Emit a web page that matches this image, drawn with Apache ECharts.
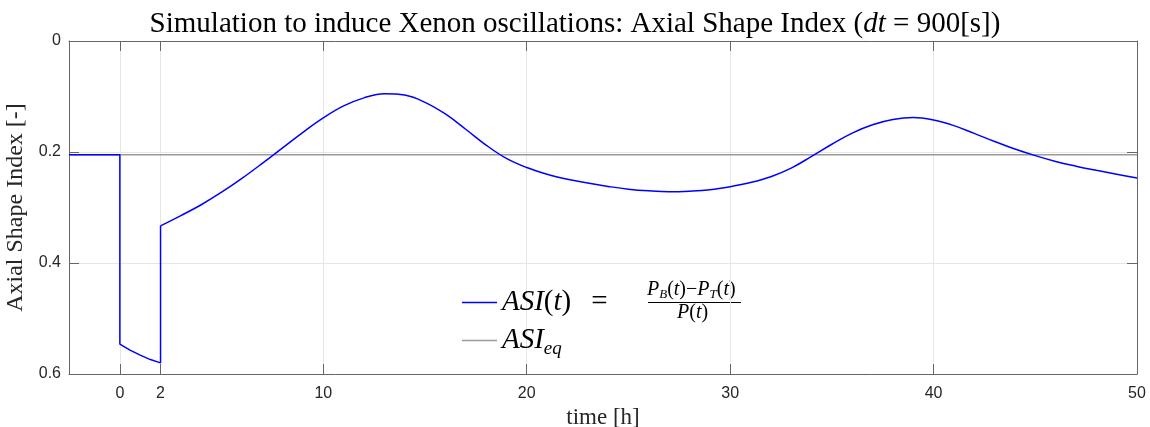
<!DOCTYPE html>
<html>
<head>
<meta charset="utf-8">
<script src="https://cdn.jsdelivr.net/npm/echarts@6/dist/echarts.min.js"></script>
<style>
  html, body { margin: 0; padding: 0; background: #fff; }
  #main { width: 1150px; height: 427px; }
</style>
</head>
<body>
<div id="main"></div>
<script>
// time [h] and ASI
// part 1: steady state, drop at t = 0, decay until t = 2, jump back at t = 2
const jumpTime = [-2.5, 0, 0, 0.5, 1, 1.5, 2, 2]
const jumpAsi = [0.205, 0.205, 0.546, 0.557, 0.566, 0.574, 0.580, 0.333]
// part 2: free oscillation after t = 2
const oscTime = [2, 3, 4, 5, 6, 7, 8, 9, 10, 11, 12, 13, 14, 15, 16, 17, 18, 19, 20,
  21, 22, 23, 24, 25, 26, 27, 28, 29, 30, 31, 32, 33, 34, 35, 36, 37, 38, 39, 40, 41, 42, 43, 44, 45, 46, 47, 48, 49, 50]
const oscAsi = [0.333, 0.3145, 0.295, 0.2725, 0.2475, 0.2205, 0.1925, 0.1645, 0.1385,
  0.117, 0.1025, 0.095, 0.0975, 0.1105, 0.1315, 0.159, 0.1875, 0.2115, 0.228,
  0.240, 0.249, 0.256, 0.262, 0.267, 0.270, 0.2715, 0.2705, 0.268, 0.2625, 0.255, 0.2445, 0.229, 0.208,
  0.186, 0.166, 0.151, 0.1415, 0.138, 0.1425, 0.1525, 0.1665, 0.181, 0.1945, 0.2065, 0.217, 0.2255, 0.233, 0.240, 0.247]
const asiEq = 0.205
const xTicks = [0, 2, 10, 20, 30, 40, 50]
const xRange = [-2.5, 50]

const jumpData = jumpTime.map((t, i) => [t, jumpAsi[i]])
const oscData = oscTime.map((t, i) => [t, oscAsi[i]])
const eqData = xRange.map(t => [t, asiEq])

const serif = 'Liberation Serif'
const sans = 'Liberation Sans'

const chart = echarts.init(document.getElementById('main'))

const option = {
  animation: false,
  title: {
    left: 'center',
    top: 5,
    text: '{r|Simulation to induce Xenon oscillations: Axial Shape Index (}{i|dt}{r| = 900[s])}',
    textStyle: {
      rich: {
        r: { fontFamily: serif, fontSize: 29, fontWeight: 'normal', color: '#000' },
        i: { fontFamily: serif, fontSize: 29, fontWeight: 'normal', fontStyle: 'italic', color: '#000' }
      }
    }
  },
  grid: { left: 69, right: 13, top: 41, bottom: 53, outerBoundsMode: 'none' },
  legend: [
    {
      left: 462,
      top: 288,
      padding: 0,
      orient: 'vertical',
      icon: 'rect',
      itemWidth: 35,
      itemHeight: 1.5,
      data: ['ASI'],
      formatter: () => '{i|ASI}{r|(}{i|t}{r|)}{e|=}',
      textStyle: {
        rich: {
          r: { fontFamily: serif, fontSize: 29, color: '#000' },
          i: { fontFamily: serif, fontSize: 29, fontStyle: 'italic', color: '#000' },
          e: { fontFamily: serif, fontSize: 29, color: '#000', padding: [0, 0, 0, 20] }
        }
      }
    },
    {
      left: 462,
      top: 326,
      padding: 0,
      orient: 'vertical',
      icon: 'rect',
      itemWidth: 35,
      itemHeight: 1.5,
      data: ['ASIeq'],
      formatter: () => '{i|ASI}{s|eq}',
      textStyle: {
        rich: {
          i: { fontFamily: serif, fontSize: 29, fontStyle: 'italic', color: '#000', lineHeight: 36 },
          s: { fontFamily: serif, fontSize: 19, fontStyle: 'italic', color: '#000', lineHeight: 36, verticalAlign: 'bottom' }
        }
      }
    }
  ],
  graphic: [
    {
      type: 'text',
      left: 647,
      top: 280,
      style: {
        text: '{i|P}{s|B}{r|(}{i|t}{r|)−}{i|P}{s|T}{r|(}{i|t}{r|)}',
        rich: {
          r: { fontFamily: serif, fontSize: 20, color: '#000', lineHeight: 22 },
          i: { fontFamily: serif, fontSize: 20, fontStyle: 'italic', color: '#000', lineHeight: 22 },
          s: { fontFamily: serif, fontSize: 13, fontStyle: 'italic', color: '#000', lineHeight: 22, verticalAlign: 'bottom' }
        }
      }
    },
    {
      type: 'line',
      shape: { x1: 648, y1: 302.5, x2: 741, y2: 302.5 },
      style: { stroke: '#000', lineWidth: 1 }
    },
    {
      type: 'text',
      left: 677,
      top: 303,
      style: {
        text: '{i|P}{r|(}{i|t}{r|)}',
        rich: {
          r: { fontFamily: serif, fontSize: 20, color: '#000', lineHeight: 22 },
          i: { fontFamily: serif, fontSize: 20, fontStyle: 'italic', color: '#000', lineHeight: 22 }
        }
      }
    }
  ],
  xAxis: [
    {
      type: 'value',
      min: xRange[0],
      max: xRange[1],
      name: 'time [h]',
      nameLocation: 'middle',
      nameGap: 29,
      nameTextStyle: { fontFamily: serif, fontSize: 23, color: '#262626' },
      axisLine: { onZero: false, lineStyle: { color: '#666', width: 1 } },
      axisTick: { inside: true, length: 10, customValues: xTicks, lineStyle: { color: '#666' } },
      axisLabel: { customValues: xTicks, fontFamily: sans, fontSize: 16, color: '#262626', margin: 12 },
      splitLine: { show: true, lineStyle: { color: '#e6e6e6', width: 1 } }
    },
    {
      type: 'value',
      position: 'top',
      min: xRange[0],
      max: xRange[1],
      axisLine: { onZero: false, lineStyle: { color: '#666', width: 1 } },
      axisTick: { inside: true, length: 10, customValues: xTicks, lineStyle: { color: '#666' } },
      axisLabel: { show: false },
      splitLine: { show: false }
    }
  ],
  yAxis: [
    {
      type: 'value',
      inverse: true,
      min: 0,
      max: 0.6,
      interval: 0.2,
      name: 'Axial Shape Index [-]',
      nameLocation: 'middle',
      nameGap: 37,
      nameTextStyle: { fontFamily: serif, fontSize: 24, color: '#262626' },
      axisLine: { show: true, onZero: false, lineStyle: { color: '#666', width: 1 } },
      axisTick: { show: true, inside: true, length: 10, lineStyle: { color: '#666' } },
      axisLabel: { fontFamily: sans, fontSize: 16, color: '#262626', margin: 8 },
      splitLine: { show: true, lineStyle: { color: '#e6e6e6', width: 1 } }
    },
    {
      type: 'value',
      position: 'right',
      inverse: true,
      min: 0,
      max: 0.6,
      interval: 0.2,
      axisLine: { show: true, onZero: false, lineStyle: { color: '#666', width: 1 } },
      axisTick: { show: true, inside: true, length: 10, lineStyle: { color: '#666' } },
      axisLabel: { show: false },
      splitLine: { show: false }
    }
  ],
  series: [
    {
      name: 'ASIeq',
      type: 'line',
      symbol: 'none',
      data: eqData,
      lineStyle: { color: '#9a9a9a', width: 1.5 },
      itemStyle: { color: '#9a9a9a' },
      z: 2
    },
    {
      name: 'ASI',
      type: 'line',
      symbol: 'none',
      data: jumpData,
      lineStyle: { color: '#0000ff', width: 1.5 },
      itemStyle: { color: '#0000ff' },
      z: 3
    },
    {
      name: 'ASI',
      type: 'line',
      symbol: 'none',
      smooth: 0.4,
      data: oscData,
      lineStyle: { color: '#0000ff', width: 1.5 },
      itemStyle: { color: '#0000ff' },
      z: 3
    }
  ]
}

chart.setOption(option)
</script>
</body>
</html>
